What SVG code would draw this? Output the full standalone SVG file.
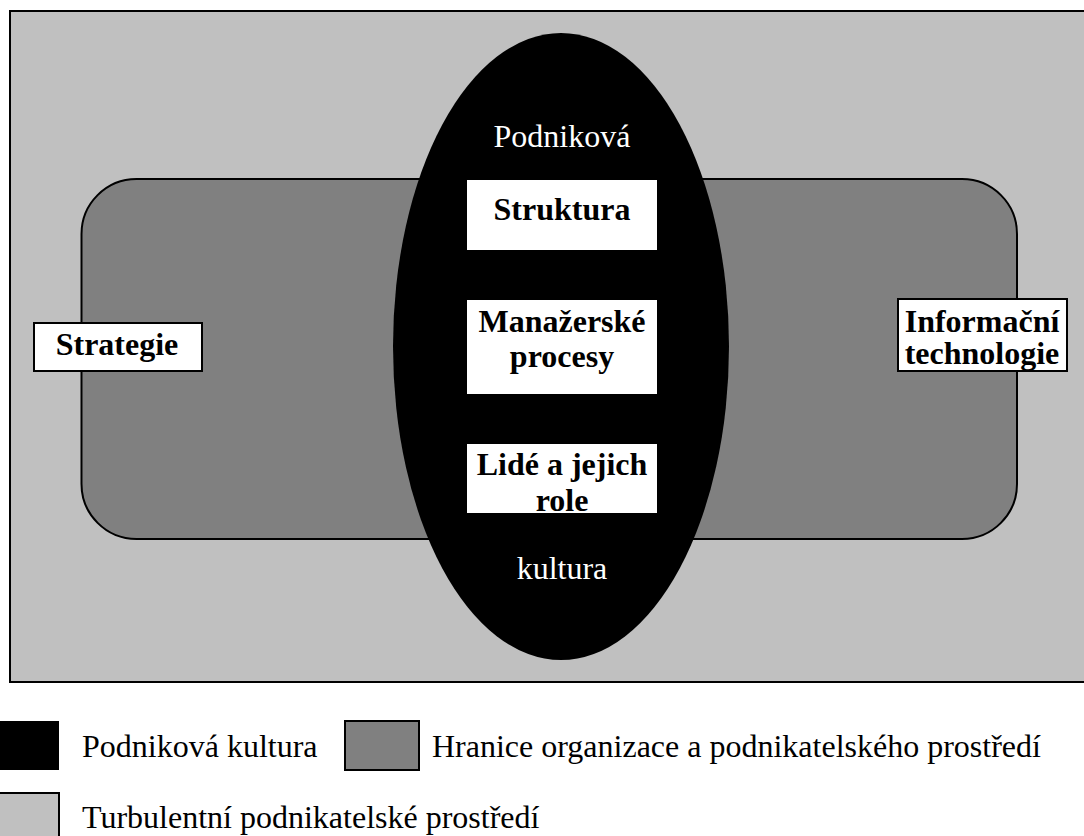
<svg xmlns="http://www.w3.org/2000/svg" width="1084" height="836" viewBox="0 0 1084 836">
  <style>
    .lbl { font-family: "Liberation Serif", "Times New Roman", serif; font-size: 32px; }
    .b { font-weight: bold; fill: #000; text-anchor: middle; }
    .w { fill: #fff; text-anchor: middle; }
    .leg { fill: #000; }
    .edge { stroke: #000; stroke-width: 2; }
  </style>
  <defs>
    <clipPath id="clipLide"><rect x="467" y="444" width="190" height="69"/></clipPath>
    <clipPath id="clipIT"><rect x="898" y="299" width="169" height="72"/></clipPath>
  </defs>

  <rect width="1084" height="836" fill="#fff"/>

  <!-- turbulent business environment -->
  <g id="environment">
    <rect x="10" y="11" width="1090" height="671" fill="#c0c0c0" class="edge"/>
  </g>

  <!-- organisation boundary -->
  <g id="boundary">
    <rect x="81.5" y="179" width="935.5" height="360" rx="55" ry="55" fill="#808080" class="edge"/>
  </g>

  <!-- corporate culture -->
  <g id="culture">
    <ellipse cx="561" cy="346.5" rx="168" ry="313.5" fill="#000"/>
    <text class="lbl w" x="562" y="147">Podniková</text>
    <text class="lbl w" x="562" y="579">kultura</text>
  </g>

  <g id="struktura">
    <rect x="467" y="180" width="190" height="70" fill="#fff"/>
    <text class="lbl b" x="562" y="220">Struktura</text>
  </g>

  <g id="procesy">
    <rect x="467" y="300" width="190" height="94" fill="#fff"/>
    <text class="lbl b" x="562" y="332">Manažerské</text>
    <text class="lbl b" x="562" y="367">procesy</text>
  </g>

  <g id="lide">
    <rect x="467" y="444" width="190" height="69" fill="#fff"/>
    <g clip-path="url(#clipLide)">
      <text class="lbl b" x="562" y="475">Lidé a jejich</text>
      <text class="lbl b" x="562" y="511">role</text>
    </g>
  </g>

  <g id="strategie">
    <rect x="34" y="323" width="168" height="48" fill="#fff" class="edge"/>
    <text class="lbl b" x="117" y="355">Strategie</text>
  </g>

  <g id="it">
    <rect x="898" y="299" width="169" height="72" fill="#fff" class="edge"/>
    <g clip-path="url(#clipIT)">
      <text class="lbl b" x="982" y="332">Informační</text>
      <text class="lbl b" x="982" y="364">technologie</text>
    </g>
  </g>

  <g id="connectors"/>

  <!-- legend -->
  <g id="legend">
    <rect x="-2" y="721" width="61" height="49" fill="#000"/>
    <text class="lbl leg" x="82" y="757">Podniková kultura</text>
    <rect x="345" y="721" width="74" height="49" fill="#808080" class="edge"/>
    <text class="lbl leg" x="432" y="757">Hranice organizace a podnikatelského prostředí</text>
    <rect x="-2" y="793" width="61" height="60" fill="#c0c0c0" class="edge"/>
    <text class="lbl leg" x="82" y="828">Turbulentní podnikatelské prostředí</text>
  </g>
</svg>
